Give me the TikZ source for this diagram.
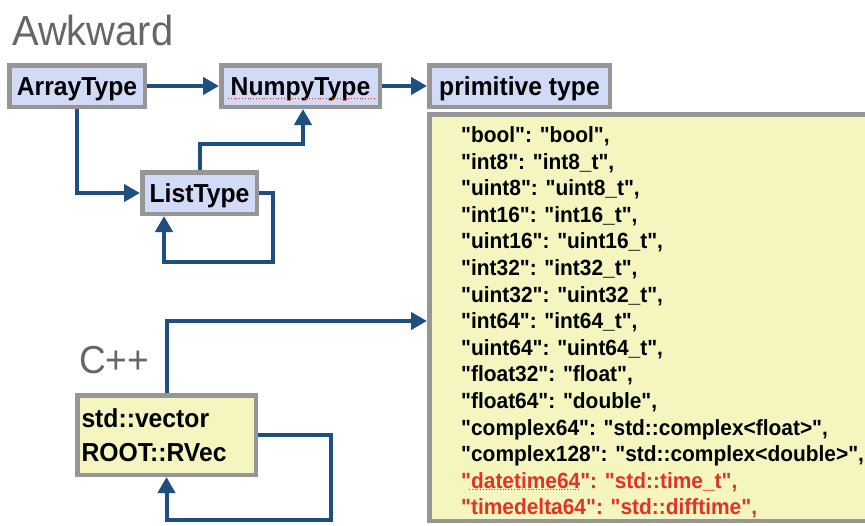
\documentclass[tikz,border=0pt]{standalone}
\usepackage{fontspec}
\newfontfamily\hv{Liberation Sans}[FakeStretch=0.95]
\usetikzlibrary{arrows.meta}
\definecolor{boxblue}{RGB}{209,218,247}
\definecolor{boxgray}{RGB}{150,150,150}
\definecolor{boxyellow}{RGB}{245,245,192}
\definecolor{arrowblue}{RGB}{31,78,128}
\definecolor{txtred}{RGB}{224,52,40}
\definecolor{txtgray}{RGB}{102,102,102}
\tikzset{
  typebox/.style={draw=boxgray, fill=boxblue, line width=4.5pt, inner sep=0pt,
    minimum height=41.5pt, text height=18.6pt, text depth=0pt,
    font=\hv\bfseries\fontsize{26}{30}\selectfont},
  cppbox/.style={draw=boxgray, fill=boxyellow, line width=4.5pt, inner sep=0pt,
    minimum width=178.5pt, minimum height=79.5pt, align=left, text width=170pt,
    font=\hv\bfseries\fontsize{26}{34}\selectfont},
  listbox/.style={draw=boxgray, fill=boxyellow, line width=4.5pt, inner sep=0pt,
    minimum width=600pt, minimum height=406.5pt},
  lst/.style={inner sep=0pt, anchor=base west, font=\hv\bfseries\fontsize{22}{26}\selectfont},
  title/.style={inner sep=0pt, anchor=base west, text=txtgray, font=\hv\fontsize{42}{48}\selectfont},
  arr/.style={draw=arrowblue, line width=4pt, -{Triangle[length=16pt,width=17pt]}},
  spell/.style={draw=txtred, line width=0.8pt, dotted}
}
\begin{document}
\begin{tikzpicture}[x=1pt,y=-1pt]
\useasboundingbox (0,0) rectangle (865,525);

% titles
\node[title] (awk) at (12,45) {Awkward};
\node[title, font=\hv\fontsize{39}{44}\selectfont] (cpp) at (79,373) {C++};

% type boxes
\node[typebox, minimum width=135.5pt] (A) at (77,86) {ArrayType};
\node[typebox, minimum width=158.5pt] (N) at (300.5,86) {NumpyType};
\node[typebox, minimum width=180.5pt] (P) at (519.5,86) {primitive type};
\node[typebox, minimum width=114.5pt] (L) at (199.5,193) {ListType};
\node[cppbox] (C) at (166.5,435) {std::vector\\ROOT::RVec};
\node[listbox] (Y) at (729.25,317.5) {};

% list of primitive types
\foreach \t [count=\i] in {
  {"bool": "bool",},
  {"int8": "int8\_t",},
  {"uint8": "uint8\_t",},
  {"int16": "int16\_t",},
  {"uint16": "uint16\_t",},
  {"int32": "int32\_t",},
  {"uint32": "uint32\_t",},
  {"int64": "int64\_t",},
  {"uint64": "uint64\_t",},
  {"float32": "float",},
  {"float64": "double",},
  {"complex64": "std::complex<float>",},
  {"complex128": "std::complex<double>",},
  {\color{txtred}"datetime64": "std::time\_t",},
  {\color{txtred}"timedelta64": "std::difftime",}
}{
  \node[lst] (l\i) at (461,{142.5+26.6*(\i-1)}) {\t};
}

% spell-check underlines
\draw[spell] (228,98.5) -- (375,98.5);
\draw[spell] (469,489.5) -- (580,489.5);

% connectors
\coordinate (cy) at (0,321);
\draw[arr] (A.east) -- (N.west);
\draw[arr] (N.east) -- (P.west);
\draw[arr] (A.south) |- (L.west);
\draw[arr] (L.north) -- ++(0,-26) -| ([xshift=2.5pt]N.south);
\draw[arr] (L.east) -- ++(14,0) -- ++(0,69) -| ([xshift=-35.5pt]L.south);
\draw[arr] (C.north) |- (Y.west |- cy);
\draw[arr] (C.east) -- ++(73,0) -- ++(0,85) -| (C.south);
\end{tikzpicture}
\end{document}
